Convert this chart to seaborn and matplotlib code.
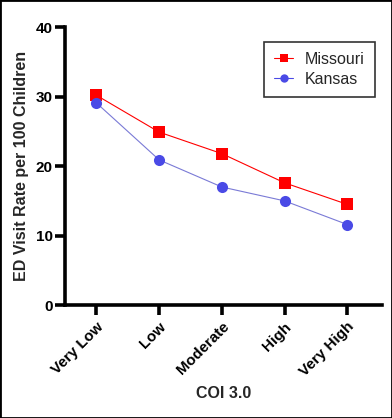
import numpy as np
import pandas as pd
import matplotlib.pyplot as plt
import seaborn as sns

# Data
categories = ['Very Low', 'Low', 'Moderate', 'High', 'Very High']
missouri = [30.2, 24.9, 21.8, 17.6, 14.5]
kansas = [29.1, 20.9, 17.0, 15.0, 11.6]

df = pd.DataFrame({
    'COI': categories * 2,
    'rate': missouri + kansas,
    'state': ['Missouri'] * 5 + ['Kansas'] * 5,
})

sns.set_style('ticks')
plt.rcParams['font.family'] = ['Liberation Sans', 'DejaVu Sans']

fig = plt.figure(figsize=(3.92, 4.18), dpi=100)
ax = fig.add_axes([0.166, 0.27, 0.808, 0.665])

sns.lineplot(data=df, x='COI', y='rate', hue='state', style='state',
             palette={'Missouri': '#ff0000', 'Kansas': '#4a4ae6'},
             markers={'Missouri': 's', 'Kansas': 'o'}, dashes=False,
             markersize=8, markeredgewidth=0, linewidth=0.8, ax=ax)
# Kansas connecting line is a paler blue than its markers
ax.lines[1].set_color('#7a7ad6')
ax.lines[1].set_markerfacecolor('#4a4ae6')

ax.set_xlim(-0.5, 4.55)
ax.set_ylim(0, 40)
ax.set_yticks([0, 10, 20, 30, 40])
for s in ['top', 'right']:
    ax.spines[s].set_visible(False)
for s in ['left', 'bottom']:
    ax.spines[s].set_linewidth(2.6)
    ax.spines[s].set_color('black')
ax.tick_params(axis='both', width=2.6, length=7, colors='black', labelsize=11)
ax.tick_params(axis='y', pad=2)
for lab in ax.get_xticklabels() + ax.get_yticklabels():
    lab.set_fontweight('bold')
plt.setp(ax.get_xticklabels(), rotation=45, ha='right', rotation_mode='anchor')

ax.set_xlabel('COI 3.0', fontsize=11.5, fontweight='bold', labelpad=5)
ax.set_ylabel('ED Visit Rate per 100 Children', fontsize=11.5, fontweight='bold', labelpad=5)

leg = ax.legend(loc='upper right', bbox_to_anchor=(0.977, 0.948), fontsize=11.5,
                frameon=True, fancybox=False, edgecolor='black', markerscale=0.75,
                handlelength=1.2, borderpad=0.65, labelspacing=0.3, handletextpad=0.7,
                borderaxespad=0)
leg.get_frame().set_linewidth(1.2)

# thin black border around the whole picture
fig.patches.append(plt.Rectangle((0, 0), 1, 1, transform=fig.transFigure,
                                 fill=False, edgecolor='black', linewidth=2))

fig.savefig('out.png', dpi=100)
